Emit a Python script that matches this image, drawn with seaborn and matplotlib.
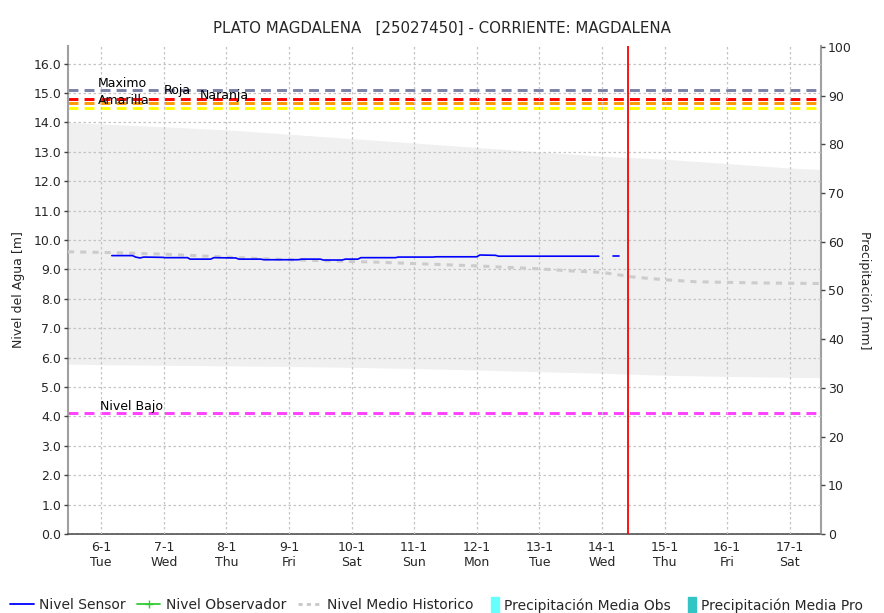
import numpy as np
import pandas as pd
import seaborn as sns
import matplotlib.pyplot as plt
import matplotlib.patches as mpatches
from matplotlib.lines import Line2D

# Day-of-month positions (January) and tick labels
tick_days = [6, 7, 8, 9, 10, 11, 12, 13, 14, 15, 16, 17]
tick_labels = ['6-1\nTue', '7-1\nWed', '8-1\nThu', '9-1\nFri', '10-1\nSat', '11-1\nSun',
               '12-1\nMon', '13-1\nTue', '14-1\nWed', '15-1\nThu', '16-1\nFri', '17-1\nSat']

# Historic range band (gray)
band_day = [5.47, 6, 7, 8, 9, 10, 11, 12, 13, 14, 15, 16, 17, 17.5]
band_top = [14.0, 13.95, 13.85, 13.75, 13.6, 13.45, 13.3, 13.15, 13.0, 12.85, 12.75, 12.6, 12.45, 12.4]
band_low = [5.78, 5.76, 5.74, 5.72, 5.70, 5.67, 5.63, 5.58, 5.52, 5.47, 5.40, 5.36, 5.33, 5.32]

# Nivel Medio Historico
hist_day = [5.47, 6, 6.5, 7, 7.5, 8, 8.5, 9, 9.5, 10, 10.5, 11, 11.5, 12, 12.5, 13,
            13.5, 14, 14.5, 15, 15.5, 16, 16.5, 17, 17.5]
hist_val = [9.6, 9.58, 9.55, 9.52, 9.47, 9.42, 9.37, 9.33, 9.3, 9.27, 9.24, 9.2, 9.16, 9.12,
            9.07, 9.02, 8.95, 8.9, 8.74, 8.65, 8.58, 8.56, 8.54, 8.53, 8.52]

# Nivel Sensor (two segments)
sensor_day = [6.17, 6.50, 6.55, 6.62, 6.68, 6.98, 7.02, 7.38, 7.42, 7.75, 7.80, 8.15, 8.20,
              8.55, 8.60, 9.15, 9.20, 9.50, 9.55, 9.85, 9.90, 10.10, 10.15, 10.70, 10.75,
              11.30, 11.35, 12.00, 12.05, 12.30, 12.35, 13.95, 14.18, 14.27]
sensor_val = [9.47, 9.47, 9.42, 9.39, 9.42, 9.41, 9.40, 9.40, 9.35, 9.35, 9.40, 9.39, 9.35,
              9.35, 9.33, 9.33, 9.35, 9.35, 9.32, 9.32, 9.35, 9.35, 9.40, 9.40, 9.42, 9.42,
              9.43, 9.43, 9.49, 9.48, 9.45, 9.45, 9.45, 9.45]
sensor_seg = [1] * 32 + [2] * 2

# Threshold levels
levels = {'Maximo': 15.1, 'Roja': 14.8, 'Naranja': 14.65, 'Amarilla': 14.5, 'Nivel Bajo': 4.1}
level_colors = {'Maximo': '#7a80a8', 'Roja': '#ff0000', 'Naranja': '#ff9900',
                'Amarilla': '#ffff00', 'Nivel Bajo': '#ff40ff'}
now_day = 14.42

sns.set_theme(style='white')
plt.rcParams['font.family'] = ['DejaVu Sans']

fig = plt.figure(figsize=(8.84, 6.13), dpi=100)
ax = fig.add_axes([68 / 884, 79 / 613, 753 / 884, 488 / 613])
ax.set_facecolor('white')

ax.fill_between(band_day, band_low, band_top, color='#f0f0f0', lw=0, zorder=1)

hist_df = pd.DataFrame({'day': hist_day, 'val': hist_val})
sns.lineplot(data=hist_df, x='day', y='val', ax=ax, color='#cccccc', lw=2.2,
             zorder=3).lines[-1].set_dashes([2, 2])

sens_df = pd.DataFrame({'day': sensor_day, 'val': sensor_val, 'seg': sensor_seg})
sns.lineplot(data=sens_df, x='day', y='val', units='seg', estimator=None, ax=ax,
             color='#0000ff', lw=1.2, zorder=4)

for name, y in levels.items():
    ax.axhline(y, color=level_colors[name], lw=2.1, dashes=(3.4, 2.1), zorder=2)

ax.axvline(now_day, color='#ff0000', lw=1.3, zorder=5)

txt = dict(fontsize=9, color='black', zorder=6, va='center')
ax.text(5.95, 15.32, 'Maximo', **txt)
ax.text(7.0, 15.07, 'Roja', **txt)
ax.text(7.58, 14.93, 'Naranja', **txt)
ax.text(5.95, 14.76, 'Amarilla', **txt)
ax.text(5.98, 4.35, 'Nivel Bajo', **txt)

ax.set_xlim(5.47, 17.5)
ax.set_ylim(0, 16.6)
ax.set_xticks(tick_days)
ax.set_xticklabels(tick_labels, fontsize=9)
ax.set_yticks(np.arange(0, 16.5, 1.0))
ax.set_yticklabels([f'{v:.1f}' for v in np.arange(0, 16.5, 1.0)], fontsize=9)
ax.grid(True, color='#c4c4c4', linestyle=(0, (2, 2)), lw=0.9, zorder=2)
ax.set_axisbelow(False)
ax.tick_params(axis='both', length=3, width=1, color='#444444', direction='out', pad=2)
ax.set_xlabel('')
ax.set_ylabel('Nivel del Agua [m]', fontsize=9, labelpad=6)

for s in ['left', 'right']:
    ax.spines[s].set_color('#a0a0a0')
    ax.spines[s].set_linewidth(1.5)
ax.spines['top'].set_visible(False)
ax.spines['bottom'].set_color('#555555')
ax.spines['bottom'].set_linestyle((0, (1, 1)))

ax2 = ax.twinx()
ax2.set_ylim(0, 100 * 16.6 / 16.57)
ax2.set_yticks(np.arange(0, 101, 10))
ax2.set_yticklabels([str(v) for v in range(0, 101, 10)], fontsize=9)
ax2.tick_params(axis='y', length=3, width=1, color='#444444', pad=2)
ax2.set_ylabel('Precipitación [mm]', fontsize=9, rotation=270, labelpad=14)
for s in ['left', 'right', 'top', 'bottom']:
    ax2.spines[s].set_visible(False)
ax2.grid(False)

fig.text(0.5, 1 - 28 / 613, 'PLATO MAGDALENA   [25027450] - CORRIENTE: MAGDALENA',
         ha='center', va='center', fontsize=10.8)

# legend: line entries, then precipitation boxes (narrow handles)
line_handles = [
    Line2D([], [], color='#0000ff', lw=1.3),
    Line2D([], [], color='#33cc33', lw=1.3, marker='+', markersize=6),
    Line2D([], [], color='#c8c8c8', lw=2, dashes=(1.5, 1.5)),
]
line_names = ['Nivel Sensor', 'Nivel Observador', 'Nivel Medio Historico']
fig.legend(line_handles, line_names, loc='center left',
           bbox_to_anchor=(0.005, 1 - 605 / 613), ncol=3, frameon=False,
           fontsize=10, handlelength=1.7, handletextpad=0.4,
           columnspacing=0.8, borderaxespad=0)

box_handles = [mpatches.Patch(color='#66ffff'), mpatches.Patch(color='#33c4c4')]
box_names = ['Precipitación Media Obs', 'Precipitación Media Pro']
fig.legend(box_handles, box_names, loc='center left',
           bbox_to_anchor=(491 / 884, 1 - 605 / 613), ncol=2, frameon=False,
           fontsize=10, handlelength=0.6, handleheight=1.3, handletextpad=0.35,
           columnspacing=1.2, borderaxespad=0, borderpad=0)

fig.savefig('out.png', dpi=100)
